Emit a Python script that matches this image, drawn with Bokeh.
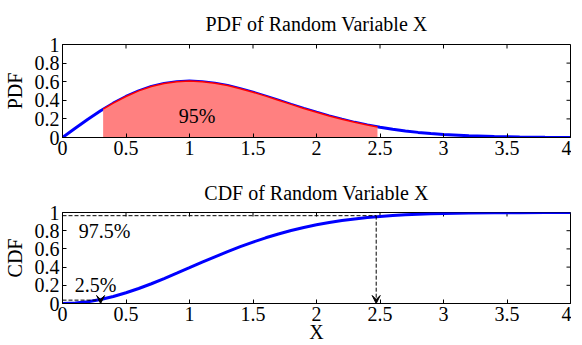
import math
from bokeh.plotting import figure
from bokeh.layouts import column
from bokeh.models import Range1d, FixedTicker, Arrow, VeeHead, Label
from bokeh.embed import file_html
from bokeh.resources import INLINE

# ---- data ----
x_vals = [0, 0.1, 0.2, 0.3, 0.4, 0.5, 0.6, 0.7, 0.8, 0.9, 1.0, 1.1, 1.2, 1.3, 1.4, 1.5,
          1.6, 1.7, 1.8, 1.9, 2.0, 2.1, 2.2, 2.3, 2.4, 2.5, 2.6, 2.7, 2.8, 2.9, 3.0,
          3.2, 3.4, 3.6, 3.8, 4.0]
pdf_vals = [0, 0.099, 0.196, 0.287, 0.369, 0.441, 0.501, 0.548, 0.581, 0.600, 0.607,
            0.600, 0.584, 0.560, 0.525, 0.487, 0.445, 0.401, 0.356, 0.312, 0.271,
            0.232, 0.196, 0.163, 0.135, 0.110, 0.088, 0.071, 0.055, 0.043, 0.033,
            0.019, 0.011, 0.0055, 0.0028, 0.0013]
cdf_vals = [0, 0.005, 0.020, 0.044, 0.077, 0.118, 0.165, 0.217, 0.274, 0.333, 0.393,
            0.454, 0.513, 0.570, 0.625, 0.675, 0.722, 0.764, 0.802, 0.836, 0.865,
            0.890, 0.911, 0.929, 0.944, 0.956, 0.966, 0.974, 0.980, 0.985, 0.989,
            0.994, 0.997, 0.998, 0.999, 1.0]

q_bounds = [0.32, 2.48]          # shaded 95% interval
q_pdf = [0.304, 0.114]           # pdf at the interval ends
arrow_x = [0.30, 2.47]           # quantile arrows in CDF plot
arrow_y = [0.037, 0.965]         # dashed level lines
area_label = "95%"
level_labels = ["2.5%", "97.5%"]

x_ticks = [0, 0.5, 1, 1.5, 2, 2.5, 3, 3.5, 4]
x_tick_labels = ["0", "0.5", "1", "1.5", "2", "2.5", "3", "3.5", "4"]
y_ticks = [0, 0.2, 0.4, 0.6, 0.8, 1]
y_tick_labels = ["0", "0.2", "0.4", "0.6", "0.8", "1"]

FONT = "Liberation Serif"
FS = "20px"


def style(p, ylabel, xlabel=None):
    p.x_range = Range1d(0, 4)
    p.y_range = Range1d(0, 1)
    p.grid.visible = False
    p.outline_line_color = "black"
    p.outline_line_width = 1
    p.title.text_font = FONT
    p.title.text_font_size = FS
    p.title.text_font_style = "normal"
    p.title.align = "center"
    p.title.text_color = "black"
    for ax, ticks, labels in ((p.xaxis[0], x_ticks, x_tick_labels),
                              (p.yaxis[0], y_ticks, y_tick_labels)):
        ax.ticker = FixedTicker(ticks=ticks)
        ax.major_label_overrides = dict(zip(ticks, labels))
        ax.major_tick_in = 4
        ax.major_tick_out = 0
        ax.minor_tick_line_color = None
        ax.major_label_text_font = FONT
        ax.major_label_text_font_size = FS
        ax.major_label_text_font_style = "normal"
        ax.major_label_text_color = "black"
        ax.axis_line_color = "black"
        ax.major_tick_line_color = "black"
        ax.axis_label_text_font = FONT
        ax.axis_label_text_font_size = FS
        ax.axis_label_text_font_style = "normal"
        ax.axis_label_text_color = "black"
    p.xaxis[0].major_label_standoff = 3
    p.yaxis[0].major_label_standoff = 3
    p.yaxis[0].axis_label = ylabel
    p.yaxis[0].axis_label_standoff = 6
    if xlabel:
        p.xaxis[0].axis_label = xlabel
        p.xaxis[0].axis_label_standoff = -3
    # inward ticks on the top and right edges of the box
    p.ray(x=x_ticks, y=[1] * len(x_ticks), length=4, length_units="screen",
          angle=-math.pi / 2, line_color="black", line_width=1)
    p.ray(x=[4] * len(y_ticks), y=y_ticks, length=4, length_units="screen",
          angle=math.pi, line_color="black", line_width=1)


# ---- PDF plot ----
p1 = figure(width=571, height=160, output_backend="svg", toolbar_location=None,
            title="PDF of Random Variable X",
            min_border_left=56, min_border_right=1, min_border_top=43, min_border_bottom=23)
style(p1, "PDF")
p1.title.standoff = 20

p1.line(x_vals, pdf_vals, line_color="#0000FF", line_width=3)
sx = [q_bounds[0]] + [x for x in x_vals if q_bounds[0] < x < q_bounds[1]] + [q_bounds[1]]
sy = [q_pdf[0]] + [y for x, y in zip(x_vals, pdf_vals) if q_bounds[0] < x < q_bounds[1]] + [q_pdf[1]]
p1.patch(sx + [q_bounds[1], q_bounds[0]], sy + [0, 0], fill_color="#FF8080", line_color=None)
p1.line(sx, sy, line_color="#FF0000", line_width=1.5)
p1.add_layout(Label(x=1.06, y=0.23, text=area_label, text_font=FONT, text_font_size=FS,
                    text_align="center", text_baseline="middle", text_color="black"))

# ---- CDF plot ----
p2 = figure(width=571, height=185, output_backend="svg", toolbar_location=None,
            title="CDF of Random Variable X",
            min_border_left=56, min_border_right=1, min_border_top=52, min_border_bottom=40)
style(p2, "CDF", "X")
p2.title.standoff = 17

p2.line(x_vals, cdf_vals, line_color="#0000FF", line_width=3)
for xa, ya in zip(arrow_x, arrow_y):
    p2.line([0, xa], [ya, ya], line_color="black", line_dash="4 2", line_width=1)
    p2.add_layout(Arrow(end=VeeHead(size=8, fill_color="black", line_color="black"),
                        x_start=xa, y_start=ya, x_end=xa, y_end=0,
                        line_color="black", line_dash="4 2", line_width=1))
p2.add_layout(Label(x=0.097, y=0.204, text=level_labels[0], text_font=FONT, text_font_size=FS,
                    text_align="left", text_baseline="middle", text_color="black"))
p2.add_layout(Label(x=0.128, y=0.80, text=level_labels[1], text_font=FONT, text_font_size=FS,
                    text_align="left", text_baseline="middle", text_color="black"))

layout = column(p1, p2, spacing=0)
open("out.html", "w").write(file_html(layout, INLINE))
